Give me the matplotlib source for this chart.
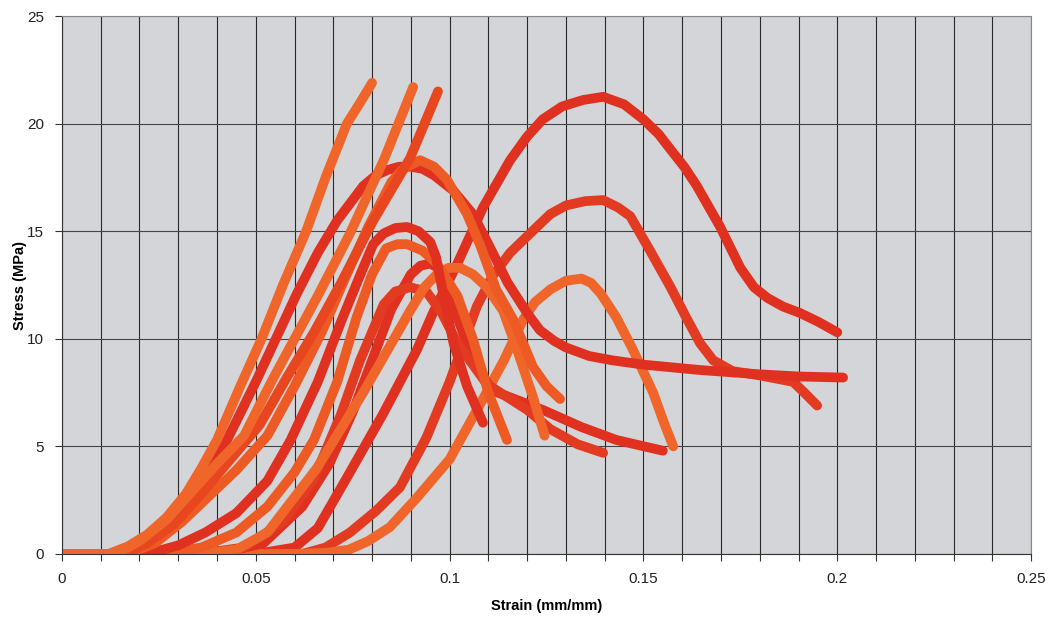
import numpy as np
import matplotlib.pyplot as plt

plt.rcParams['font.family'] = ['Liberation Sans', 'DejaVu Sans']

# specimen curves (strain mm/mm, stress MPa)
a_strain = [0, 0.012, 0.017, 0.022, 0.027, 0.032, 0.036, 0.040, 0.046, 0.0515, 0.057, 0.063, 0.068, 0.0735, 0.077, 0.080]
a_stress = [0, 0, 0.35, 0.9, 1.7, 2.8, 4.0, 5.3, 7.8, 10.0, 12.5, 15.0, 17.5, 20.0, 21.0, 21.9]

d_strain = [0, 0.014, 0.019, 0.025, 0.031, 0.037, 0.0426, 0.050, 0.0606, 0.066, 0.071, 0.0777, 0.081, 0.084,
            0.087, 0.090, 0.093, 0.096, 0.1009, 0.106, 0.110, 0.115, 0.120, 0.1233, 0.127, 0.130, 0.136,
            0.142, 0.150, 0.1646, 0.180, 0.190, 0.2015]
d_stress = [0, 0, 0.3, 1.0, 2.0, 3.5, 5.3, 8.0, 12.1, 14.0, 15.5, 17.1, 17.6, 17.85,
            18.0, 18.0, 17.9, 17.6, 16.9, 15.8, 14.4, 12.6, 11.2, 10.4, 9.9, 9.6, 9.2,
            9.0, 8.8, 8.55, 8.35, 8.25, 8.2]

b_strain = [0, 0.014, 0.020, 0.027, 0.034, 0.040, 0.047, 0.054, 0.060, 0.066, 0.0743, 0.083, 0.0906]
b_stress = [0, 0, 0.6, 1.6, 3.0, 4.2, 5.5, 8.0, 10.0, 12.0, 14.9, 18.3, 21.7]

c_strain = [0, 0.016, 0.022, 0.029, 0.036, 0.043, 0.051, 0.058, 0.065, 0.072, 0.080, 0.0898, 0.097]
c_stress = [0, 0, 0.5, 1.4, 2.8, 4.3, 6.0, 8.2, 10.3, 12.6, 15.4, 18.4, 21.5]

e_strain = [0, 0.017, 0.024, 0.031, 0.038, 0.045, 0.053, 0.060, 0.067, 0.073, 0.079, 0.085, 0.088, 0.0924,
            0.096, 0.0993, 0.1045, 0.108, 0.112, 0.1164, 0.1215, 0.125, 0.1285]
e_stress = [0, 0, 0.5, 1.5, 2.7, 3.9, 5.5, 7.8, 10.3, 12.8, 15.2, 17.3, 17.9, 18.3,
            18.0, 17.4, 15.8, 14.3, 12.3, 10.9, 8.7, 7.8, 7.2]

f_strain = [0, 0.022, 0.030, 0.037, 0.045, 0.053, 0.059, 0.066, 0.072, 0.077, 0.0803, 0.083, 0.086, 0.089,
            0.092, 0.095, 0.0965, 0.098, 0.101, 0.1045, 0.1086]
f_stress = [0, 0, 0.4, 1.0, 1.9, 3.4, 5.3, 8.0, 10.8, 13.0, 14.4, 14.9, 15.15, 15.2,
            15.0, 14.5, 13.8, 12.4, 9.8, 7.8, 6.1]

g_strain = [0, 0.026, 0.036, 0.045, 0.053, 0.060, 0.065, 0.071, 0.076, 0.080, 0.0836, 0.0865, 0.089, 0.093,
            0.0967, 0.102, 0.106, 0.110, 0.1148]
g_stress = [0, 0, 0.3, 1.0, 2.2, 3.8, 5.3, 8.0, 11.0, 13.0, 14.2, 14.4, 14.4, 14.1,
            13.5, 12.0, 10.0, 7.5, 5.3]

h_strain = [0, 0.035, 0.047, 0.057, 0.065, 0.072, 0.0769, 0.083, 0.086, 0.0898, 0.094, 0.098, 0.102, 0.1096,
            0.120, 0.126, 0.133, 0.1396]
h_stress = [0, 0, 0.3, 1.5, 3.5, 6.5, 9.0, 11.6, 12.2, 12.4, 12.2, 11.2, 9.8, 7.9,
            6.7, 5.8, 5.1, 4.7]

m_strain = [0, 0.040, 0.052, 0.062, 0.069, 0.075, 0.080, 0.085, 0.090, 0.0925, 0.095, 0.097, 0.099, 0.102,
            0.106, 0.111, 0.124, 0.134, 0.143, 0.155]
m_stress = [0, 0, 0.5, 2.2, 4.2, 6.6, 9.0, 11.4, 13.0, 13.4, 13.5, 13.3, 12.8, 11.0,
            9.0, 7.6, 6.7, 5.9, 5.3, 4.8]

i_strain = [0, 0.035, 0.045, 0.053, 0.0658, 0.0777, 0.0898, 0.0935, 0.0967, 0.0997, 0.1027, 0.106, 0.1096,
            0.1138, 0.1174, 0.1215, 0.1245]
i_stress = [0, 0, 0.2, 1.0, 4.0, 7.5, 11.3, 12.4, 13.0, 13.3, 13.3, 13.0, 12.4,
            11.3, 9.5, 7.3, 5.5]

j_strain = [0, 0.050, 0.060, 0.066, 0.0743, 0.0828, 0.0916, 0.0957, 0.102, 0.1086, 0.1156, 0.120, 0.124,
            0.129, 0.1344, 0.1396, 0.145, 0.150, 0.154, 0.157, 0.1605, 0.1638, 0.1698, 0.175, 0.1785,
            0.182, 0.186, 0.1904, 0.195, 0.200]
j_stress = [0, 0, 0.3, 1.2, 3.8, 6.5, 9.5, 11.2, 13.5, 16.1, 18.3, 19.4, 20.2,
            20.8, 21.1, 21.25, 20.9, 20.2, 19.5, 18.8, 18.0, 17.1, 15.2, 13.3, 12.4,
            11.9, 11.5, 11.2, 10.8, 10.3]

k_strain = [0, 0.062, 0.068, 0.0743, 0.081, 0.0872, 0.094, 0.100, 0.107, 0.111, 0.1156, 0.1225, 0.126,
            0.130, 0.135, 0.1396, 0.1435, 0.1466, 0.1517, 0.157, 0.161, 0.1646, 0.168, 0.173, 0.180,
            0.1886, 0.1915, 0.1948]
k_stress = [0, 0, 0.3, 1.0, 2.0, 3.1, 5.4, 8.0, 11.5, 12.9, 14.0, 15.2, 15.8,
            16.2, 16.4, 16.45, 16.1, 15.7, 14.1, 12.4, 11.0, 9.8, 9.0, 8.5, 8.3,
            8.0, 7.5, 6.9]

l_strain = [0, 0.060, 0.068, 0.074, 0.079, 0.0846, 0.0915, 0.100, 0.1086, 0.114, 0.119, 0.122, 0.126,
            0.130, 0.134, 0.1365, 0.139, 0.143, 0.147, 0.1525, 0.1555, 0.1577]
l_stress = [0, 0, 0.05, 0.2, 0.6, 1.25, 2.6, 4.4, 7.2, 9.0, 10.9, 11.7, 12.3,
            12.7, 12.8, 12.6, 12.1, 11.0, 9.6, 7.5, 6.0, 5.0]

orange = '#F0662A'
orange2 = '#EE5A24'
red = '#E0301F'
red2 = '#E33A22'

curves = [
    (j_strain, j_stress, red),
    (k_strain, k_stress, red2),
    (l_strain, l_stress, orange),
    (m_strain, m_stress, red),
    (h_strain, h_stress, red2),
    (i_strain, i_stress, orange),
    (g_strain, g_stress, orange2),
    (f_strain, f_stress, red),
    (d_strain, d_stress, red),
    (e_strain, e_stress, orange2),
    (c_strain, c_stress, '#E8461F'),
    (b_strain, b_stress, orange),
    (a_strain, a_stress, orange),
]

fig = plt.figure(figsize=(10.5, 6.2), dpi=100)
ax = fig.add_axes([0.059, 0.1065, 0.923, 0.8675])
ax.set_facecolor('#D3D5D9')

for xs, ys, col in curves:
    ax.plot(xs, ys, color=col, linewidth=7, solid_capstyle='round', solid_joinstyle='round')

ax.set_xlim(0, 0.25)
ax.set_ylim(0, 25)
ax.set_xticks(np.arange(0, 0.2501, 0.05))
ax.set_xticklabels(['0', '0.05', '0.1', '0.15', '0.2', '0.25'])
ax.set_xticks(np.arange(0, 0.2501, 0.01), minor=True)
ax.set_yticks(np.arange(0, 26, 5))
ax.grid(which='both', axis='x', color='#2a2a2a', linewidth=0.8)
ax.grid(which='major', axis='y', color='#444444', linewidth=0.8)
ax.set_axisbelow(True)
ax.tick_params(which='both', direction='out', length=5, width=0.8, colors='#333333',
               labelsize=11, labelcolor='#222222', pad=8)

for side in ['top', 'right']:
    ax.spines[side].set_color('#888888')
for side in ['left', 'bottom']:
    ax.spines[side].set_color('#333333')

ax.set_xlabel('Strain (mm/mm)', fontsize=10.5, fontweight='bold', labelpad=9)
ax.set_ylabel('Stress (MPa)', fontsize=10.5, fontweight='bold')
ax.yaxis.set_label_coords(-0.036, 0.5)

fig.savefig('out.png', dpi=100)
